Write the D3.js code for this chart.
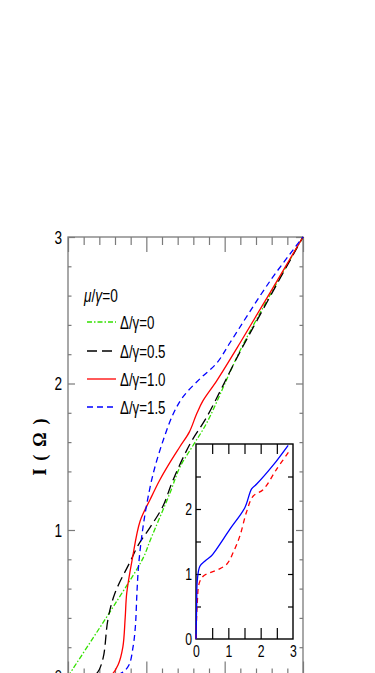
<!DOCTYPE html>
<html>
<head>
<meta charset="utf-8">
<script src="https://cdn.jsdelivr.net/npm/d3@7"></script>
<style>
  body { margin: 0; background: #fff; }
  svg { display: block; }
  text { font-family: "Liberation Sans", Arial, sans-serif; fill: #000; }
</style>
</head>
<body>
<div id="body"></div>
<script>
let majorTicks = [0, 1, 2, 3]

let delta00 = [[0, 0], [0.06, 0.05], [0.63, 0.52], [0.96, 0.81], [1.05, 0.93], [1.3, 1.25], [1.43, 1.43],
  [1.6, 1.58], [1.77, 1.73], [2.23, 2.26], [3, 3]]
let delta05 = [[0, 0], [0.3, 0], [0.38, 0.03], [0.45, 0.13], [0.51, 0.39], [0.6, 0.57], [0.79, 0.78], [0.9, 0.9],
  [1.05, 1.02], [1.21, 1.16], [1.34, 1.34], [1.56, 1.59], [1.77, 1.77], [2.2, 2.22], [3, 3]]
let delta10 = [[0, 0], [0.45, 0], [0.55, 0.01], [0.64, 0.08], [0.7, 0.2], [0.73, 0.4], [0.75, 0.57], [0.82, 0.8],
  [0.92, 1.06], [1.05, 1.21], [1.17, 1.34], [1.3, 1.46], [1.43, 1.57], [1.55, 1.67], [1.64, 1.79], [1.72, 1.88],
  [1.9, 2.02], [2.2, 2.28], [3, 3]]
let delta15 = [[0, 0], [0.55, 0], [0.7, 0.03], [0.78, 0.08], [0.83, 0.2], [0.86, 0.34], [0.88, 0.57], [0.9, 0.75],
  [0.94, 0.95], [1.0, 1.16], [1.09, 1.39], [1.22, 1.62], [1.35, 1.8], [1.47, 1.91], [1.68, 2.03], [1.9, 2.14],
  [2.07, 2.28], [2.58, 2.7], [3, 3]]

// inset
let insetBlue = [[0, 0], [0.02, 0.5], [0.04, 0.9], [0.12, 1.12], [0.28, 1.2], [0.48, 1.28], [0.63, 1.38],
  [1.05, 1.69], [1.51, 2.02], [1.72, 2.31], [1.87, 2.38], [2.38, 2.67], [2.85, 2.98]]
let insetRed = [[0, 0], [0.04, 0.56], [0.1, 0.86], [0.23, 0.97], [0.43, 1.02], [0.69, 1.07], [0.95, 1.15],
  [1.15, 1.33], [1.36, 1.59], [1.56, 1.95], [1.77, 2.2], [2.08, 2.3], [2.49, 2.61], [2.9, 2.9]]

let legendLabels = ["Δ/γ=0", "Δ/γ=0.5", "Δ/γ=1.0", "Δ/γ=1.5"]

// styles of the four curves
let styles = [
  { color: "#33e000", dash: "5,2,1.5,2" },
  { color: "#000", dash: "10,5" },
  { color: "#ff0000", dash: null },
  { color: "#0000ff", dash: "6,4" }
]

// the figure is squeezed sideways, so text is narrowed
let squeeze = 0.72

// set the dimensions and margins of the graph
let margin = { top: 237, left: 68 },
  width = 235,
  height = 439.5

let svg = d3.select("#body")
  .append("svg")
  .attr("width", 375)
  .attr("height", 673)

let g = svg.append("g")
  .attr("transform", "translate(" + margin.left + "," + margin.top + ")")

let x = d3.scaleLinear().domain([0, 3]).range([0, width])
let y = d3.scaleLinear().domain([0, 3]).range([height, 0])

let minorX = x.ticks(15).filter(d => Math.abs(d - Math.round(d)) > 1e-6)
let minorY = y.ticks(15).filter(d => Math.abs(d - Math.round(d)) > 1e-6)

function noDomain(sel) { sel.select(".domain").remove() }

// narrow the tick labels in place
function narrowLabels(sel, size) {
  sel.selectAll(".tick text").each(function () {
    let t = d3.select(this)
    let tx = +t.attr("x") || 0
    let ty = +t.attr("y") || 0
    t.attr("x", null).attr("y", null)
      .attr("font-size", size)
      .attr("transform", "translate(" + tx + "," + ty + ") scale(" + squeeze + ",1)")
  })
}

let frameColor = "#7a7a7a"

// frame
g.append("rect")
  .attr("width", width).attr("height", height)
  .attr("fill", "none").attr("stroke", frameColor).attr("stroke-width", 1.3)

// x ticks (top and bottom, inward)
g.append("g").call(d3.axisTop(x).tickValues(minorX).tickSize(-8).tickFormat("")).call(noDomain)
g.append("g").call(d3.axisTop(x).tickValues(majorTicks).tickSize(-15).tickFormat("")).call(noDomain)
g.append("g").attr("transform", "translate(0," + height + ")")
  .call(d3.axisBottom(x).tickValues(minorX).tickSize(-8).tickFormat("")).call(noDomain)
g.append("g").attr("transform", "translate(0," + height + ")")
  .call(d3.axisBottom(x).tickValues(majorTicks).tickSize(-15).tickFormat("")).call(noDomain)

// y ticks (left with labels, right)
g.append("g").call(d3.axisLeft(y).tickValues(minorY).tickSize(-3.5).tickFormat("")).call(noDomain)
g.append("g")
  .call(d3.axisLeft(y).tickValues(majorTicks).tickSize(-7).tickPadding(6).tickFormat(d3.format("d")))
  .call(noDomain)
  .call(narrowLabels, 19)
g.append("g").attr("transform", "translate(" + width + ",0)")
  .call(d3.axisRight(y).tickValues(minorY).tickSize(-3.5).tickFormat("")).call(noDomain)
g.append("g").attr("transform", "translate(" + width + ",0)")
  .call(d3.axisRight(y).tickValues(majorTicks).tickSize(-7).tickFormat("")).call(noDomain)

g.selectAll(".tick line").attr("stroke", frameColor).attr("stroke-width", 1.2)
g.selectAll(".tick text").style("font-family", '"Liberation Sans", Arial, sans-serif')

// axis title
svg.append("text")
  .attr("transform", "translate(46,447) rotate(-90)")
  .attr("text-anchor", "middle")
  .attr("textLength", 57)
  .attr("lengthAdjust", "spacing")
  .style("font-family", '"Liberation Serif", "DejaVu Serif", serif')
  .style("font-weight", "bold")
  .attr("font-size", 18)
  .text("I(Ω)")

// curves
let line = d3.line()
  .x(d => x(d[0]))
  .y(d => y(d[1]))
  .curve(d3.curveCatmullRom.alpha(0.5))

let series = [delta00, delta05, delta10, delta15]
series.forEach(function (s, i) {
  g.append("path")
    .datum(s)
    .attr("d", line)
    .attr("fill", "none")
    .attr("stroke", styles[i].color)
    .attr("stroke-width", 1.3)
    .attr("stroke-dasharray", styles[i].dash)
})

// legend
let legend = svg.append("g")
let mu = legend.append("text")
  .attr("transform", "translate(84,302) scale(" + squeeze + ",1)")
  .attr("font-size", 19)
mu.append("tspan").style("font-style", "italic").text("μ")
mu.append("tspan").text("/")
mu.append("tspan").style("font-style", "italic").text("γ")
mu.append("tspan").text("=0")

let rowY = [322, 351, 379, 407]
legendLabels.forEach(function (lab, i) {
  legend.append("line")
    .attr("x1", 87).attr("x2", 116)
    .attr("y1", rowY[i]).attr("y2", rowY[i])
    .attr("stroke", styles[i].color)
    .attr("stroke-width", 1.3)
    .attr("stroke-dasharray", styles[i].dash)
  legend.append("text")
    .attr("transform", "translate(120," + (rowY[i] + 7) + ") scale(" + squeeze + ",1)")
    .attr("font-size", 18.5)
    .text(lab)
})

// ---- inset ----
let inset = { left: 196, top: 444, width: 97, height: 195 }
let ix = d3.scaleLinear().domain([0, 3]).range([0, inset.width])
let iy = d3.scaleLinear().domain([0, 3]).range([inset.height, 0])
let ig = svg.append("g").attr("transform", "translate(" + inset.left + "," + inset.top + ")")

ig.append("rect")
  .attr("width", inset.width).attr("height", inset.height)
  .attr("fill", "#fff").attr("stroke", "#000").attr("stroke-width", 1.4)

let halfTicks = d3.range(0.5, 3, 0.5)

ig.append("g").call(d3.axisTop(ix).tickValues(halfTicks).tickSize(-10).tickFormat("")).call(noDomain)
ig.append("g").attr("transform", "translate(0," + inset.height + ")")
  .call(d3.axisBottom(ix).tickValues(halfTicks).tickSize(-11).tickFormat("")).call(noDomain)
ig.append("g").attr("transform", "translate(0," + inset.height + ")")
  .call(d3.axisBottom(ix).tickValues(majorTicks).tickSize(0).tickPadding(6).tickFormat(d3.format("d")))
  .call(noDomain)
  .call(narrowLabels, 17)
ig.append("g").call(d3.axisLeft(iy).tickValues(halfTicks).tickSize(-5).tickFormat("")).call(noDomain)
ig.append("g")
  .call(d3.axisLeft(iy).tickValues([0, 1, 2]).tickSize(0).tickPadding(4).tickFormat(d3.format("d")))
  .call(noDomain)
  .call(narrowLabels, 17)
ig.append("g").attr("transform", "translate(" + inset.width + ",0)")
  .call(d3.axisRight(iy).tickValues(halfTicks).tickSize(-5).tickFormat("")).call(noDomain)

ig.selectAll(".tick line").attr("stroke", "#000").attr("stroke-width", 1.2)
ig.selectAll(".tick text").style("font-family", '"Liberation Sans", Arial, sans-serif')

let iline = d3.line()
  .x(d => ix(d[0]))
  .y(d => iy(d[1]))
  .curve(d3.curveCatmullRom.alpha(0.5))

ig.append("path").datum(insetRed).attr("d", iline)
  .attr("fill", "none").attr("stroke", "#ff0000").attr("stroke-width", 1.3).attr("stroke-dasharray", "5,4")
ig.append("path").datum(insetBlue).attr("d", iline)
  .attr("fill", "none").attr("stroke", "#0000ff").attr("stroke-width", 1.3)
</script>
</body>
</html>
